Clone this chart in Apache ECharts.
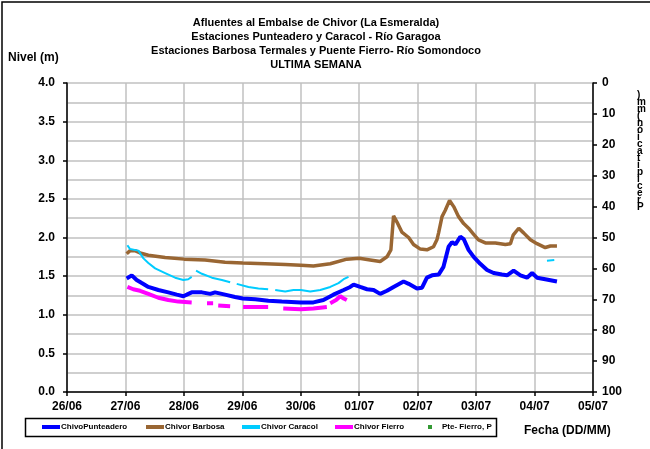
<!DOCTYPE html>
<html>
<head>
<meta charset="utf-8">
<script src="https://cdn.jsdelivr.net/npm/echarts@6/dist/echarts.min.js"></script>
<style>
html, body { margin: 0; padding: 0; background: #fff; }
#chart { width: 650px; height: 449px; }
</style>
</head>
<body>
<div id="chart"></div>
<script>
// hours since 26/06 00:00
var dayLabels = ['26/06', '27/06', '28/06', '29/06', '30/06', '01/07', '02/07', '03/07', '04/07', '05/07']
var levelTicks = [0, 4, 0.5]
var rainTicks = [0, 100, 10]

var titleLines = [
    'Afluentes al Embalse de Chivor (La Esmeralda)',
    'Estaciones Punteadero y Caracol - Río Garagoa',
    'Estaciones Barbosa Termales y Puente Fierro- Río Somondoco',
    'ULTIMA SEMANA'
]
var seriesNames = ['ChivoPunteadero', 'Chivor Barbosa', 'Chivor Caracol', 'Chivor Fierro', 'Pte- Fierro, P']

var punteadero = [[24.5,1.47],[26.6,1.51],[28.6,1.45],[30.7,1.41],[33.4,1.36],[37.5,1.32],[41.6,1.29],[45.1,1.26],
    [47.8,1.24],[49.2,1.26],[51.2,1.29],[55.4,1.29],[58.8,1.27],[60.8,1.29],[64.9,1.26],[69.0,1.23],[72.2,1.21],
    [77.3,1.20],[82.7,1.18],[88.2,1.17],[96.0,1.16],[101.2,1.16],[105.3,1.19],[109.4,1.26],[113.6,1.32],[116.3,1.36],
    [117.7,1.39],[120.4,1.36],[123.2,1.33],[125.9,1.32],[128.6,1.27],[131.4,1.31],[134.1,1.36],[138.2,1.43],
    [140.3,1.40],[143.7,1.34],[145.8,1.35],[147.8,1.48],[149.9,1.51],[152.6,1.52],[154.6,1.62],[156.7,1.88],
    [158.1,1.94],[159.5,1.91],[161.5,2.01],[162.9,1.98],[164.9,1.84],[167.0,1.75],[169.7,1.66],[172.5,1.58],
    [175.2,1.54],[178.6,1.52],[180.7,1.51],[183.4,1.57],[186.2,1.51],[188.9,1.48],[191.0,1.54],[193.0,1.48],
    [196.4,1.46],[201.2,1.43]]

var barbosa = [[24.5,1.79],[25.9,1.83],[27.9,1.83],[30.0,1.80],[33.4,1.77],[40.3,1.74],[48.1,1.72],[56.7,1.71],
    [64.9,1.68],[72.2,1.67],[81.4,1.66],[89.6,1.65],[96.0,1.64],[101.2,1.63],[108.1,1.66],[114.9,1.72],[120.0,1.73],
    [124.5,1.71],[128.6,1.69],[131.4,1.75],[133.0,1.84],[134.1,2.28],[135.5,2.20],[137.5,2.07],[140.3,2.00],
    [142.3,1.91],[145.1,1.85],[147.8,1.84],[150.5,1.88],[151.9,1.97],[152.6,2.06],[154.0,2.27],[155.3,2.35],
    [157.1,2.48],[158.8,2.40],[160.8,2.27],[162.9,2.18],[164.9,2.12],[167.0,2.04],[169.0,1.97],[171.8,1.93],
    [175.9,1.93],[180.0,1.91],[182.1,1.92],[183.2,2.03],[185.5,2.12],[187.5,2.06],[190.3,1.97],[193.0,1.92],
    [196.4,1.87],[198.5,1.89],[201.2,1.89]]

var caracol = [[24.8,1.90],[25.9,1.85],[29.3,1.83],[31.4,1.73],[33.4,1.67],[36.2,1.60],[40.3,1.54],[44.4,1.48],
    [47.8,1.45],[49.8,1.46],[51.2,1.49],[52.1,null],
    [53.0,1.57],[55.4,1.53],[59.5,1.48],[63.6,1.45],[67.0,1.42],[68.3,null],
    [69.7,1.40],[74.5,1.36],[78.6,1.34],[82.6,1.33],[84.0,null],
    [85.5,1.32],[89.6,1.30],[93.0,1.32],[96.0,1.32],[99.9,1.30],[104.0,1.32],[108.1,1.36],[111.5,1.41],
    [113.6,1.46],[115.6,1.49],[150.0,null],
    [197.1,1.70],[200.1,1.71]]

var fierro = [[24.8,1.36],[27.2,1.33],[30.0,1.31],[33.4,1.27],[37.5,1.22],[41.6,1.19],[45.7,1.17],[51.2,1.16],[54.0,null],
    [57.5,1.15],[60.0,1.15],[61.0,null],
    [62.1,1.12],[67.0,1.11],[70.0,null],
    [72.3,1.10],[82.6,1.10],[86.0,null],
    [88.8,1.08],[96.0,1.07],[101.2,1.08],[106.7,1.10],[107.4,null],
    [108.1,1.15],[110.5,1.19],[112.2,1.24],[113.6,1.21],[114.9,1.19]]

var pteFierro = []

var font = '"Liberation Sans", Arial, sans-serif'
var chart = echarts.init(document.getElementById('chart'))

var colors = ['#0000ff', '#996633', '#00ccff', '#ff00ff', '#008000']
var widths = [4, 3.5, 2, 4]
var lineData = [punteadero, barbosa, caracol, fierro]

var legendLefts = [42, 146, 242, 335, 428]
var legends = seriesNames.map(function (name, i) {
    var isRain = i === 4
    return {
        data: [{ name: name, icon: 'rect' }],
        left: legendLefts[i],
        top: 423,
        padding: 0,
        itemWidth: isRain ? 4 : 18,
        itemHeight: 4,
        itemGap: 0,
        selectedMode: false,
        textStyle: {
            fontFamily: font, fontSize: 8, fontWeight: 'bold', color: '#000',
            padding: [0, 0, 0, isRain ? 5 : -4]
        }
    }
})

var series = lineData.map(function (d, i) {
    return {
        name: seriesNames[i],
        type: 'line',
        data: d,
        showSymbol: false,
        connectNulls: false,
        color: colors[i],
        lineStyle: { width: widths[i], color: colors[i] },
        z: 2 + i,
        animation: false
    }
})
series.push({
    name: seriesNames[4],
    type: 'scatter',
    yAxisIndex: 1,
    data: pteFierro,
    symbol: 'rect',
    symbolSize: 4,
    color: colors[4],
    animation: false
})

var rightName = 'Precipitación (mm)'.replace(/ /g, '').split('').reverse().join('\n')

var option = {
    backgroundColor: '#fff',
    animation: false,
    title: {
        text: titleLines.join('\n'),
        left: 311,
        top: 11,
        textAlign: 'center',
        textStyle: { fontFamily: font, fontSize: 11, fontWeight: 'bold', color: '#000', lineHeight: 14 }
    },
    legend: legends,
    grid: { left: 67, right: 57, top: 83, bottom: 57, containLabel: false },
    xAxis: {
        type: 'value',
        min: 0,
        max: 216,
        interval: 24,
        axisLine: { lineStyle: { color: '#000', width: 1.5 } },
        axisTick: { show: true, length: 4, lineStyle: { color: '#000', width: 1.5 } },
        axisLabel: {
            margin: 9,
            fontFamily: font, fontSize: 12, fontWeight: 'bold', color: '#000',
            formatter: function (v) { return dayLabels[Math.round(v / 24)] }
        },
        splitLine: { show: true, lineStyle: { color: '#c0c0c0', width: 1.5 } }
    },
    yAxis: [{
        type: 'value',
        min: levelTicks[0],
        max: levelTicks[1],
        interval: levelTicks[2],
        axisLine: { show: true, lineStyle: { color: '#000', width: 1.5 } },
        axisTick: { show: true, length: 4, lineStyle: { color: '#000', width: 1.5 } },
        axisLabel: {
            margin: 12,
            fontFamily: font, fontSize: 12, fontWeight: 'bold', color: '#000',
            formatter: function (v) { return v.toFixed(1) }
        },
        splitLine: { show: true, lineStyle: { color: '#c0c0c0', width: 1.5 } },
        minorTick: { show: false, splitNumber: 2 },
        minorSplitLine: { show: true, lineStyle: { color: '#c0c0c0', width: 1.5 } }
    }, {
        type: 'value',
        position: 'right',
        inverse: true,
        min: rainTicks[0],
        max: rainTicks[1],
        interval: rainTicks[2],
        axisLine: { show: true, lineStyle: { color: '#000', width: 1.5 } },
        axisTick: { show: true, length: 4, lineStyle: { color: '#000', width: 1.5 } },
        axisLabel: {
            margin: 9,
            fontFamily: font, fontSize: 12, fontWeight: 'bold', color: '#000'
        },
        splitLine: { show: false }
    }],
    graphic: [{
        type: 'rect',
        shape: { x: 2, y: 2, width: 700, height: 500 },
        style: { fill: 'none', stroke: '#000', lineWidth: 1.5 },
        silent: true
    }, {
        type: 'rect',
        shape: { x: 25.5, y: 418.5, width: 471, height: 18 },
        style: { fill: 'none', stroke: '#000', lineWidth: 1.5 },
        silent: true
    }, {
        type: 'text',
        left: 8,
        top: 52,
        style: { text: 'Nivel (m)', font: 'bold 12px ' + font, fill: '#000' }
    }, {
        type: 'text',
        left: 524,
        top: 425,
        style: { text: 'Fecha (DD/MM)', font: 'bold 12px ' + font, fill: '#000' }
    }, {
        type: 'text',
        left: 637,
        top: 90,
        style: { text: rightName, font: 'bold 10px ' + font, fill: '#000', lineHeight: 7, align: 'center' }
    }],
    series: series
}

chart.setOption(option)
</script>
</body>
</html>
